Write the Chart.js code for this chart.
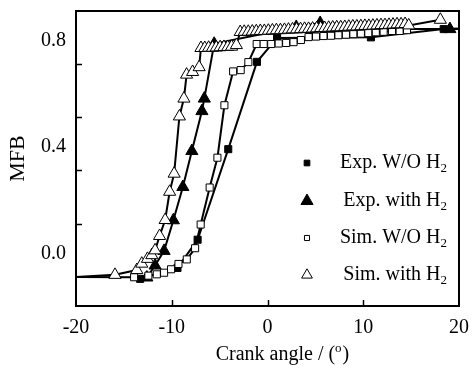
<!DOCTYPE html>
<html>
<head>
<meta charset="utf-8">
<script src="https://cdn.jsdelivr.net/npm/chart.js@4.4.0/dist/chart.umd.min.js"></script>
<style>
  html, body { margin: 0; padding: 0; background: #fff; }
</style>
</head>
<body>
<canvas id="mfb" width="472" height="374"></canvas>
<script>
// Mass fraction burned vs crank angle, experiment and simulation, with / without H2

// Exp. W/O H2
const expNoH2Angle = [-13.3, -9.4, -7.3, -4.1, -1.1, 1.0, 10.8, 18.4, 20];
const expNoH2Mfb   = [-0.095, -0.054, 0.052, 0.392, 0.72, 0.81, 0.812, 0.843, 0.845];

// Exp. with H2
const expH2Angle = [-12.6, -11.74, -10.8, -9.83, -8.84, -7.9, -6.85, -6.6, -5.57, 3.0, 5.5, 6.9, 19.05, 20];
const expH2Mfb   = [-0.09, -0.045, 0.01, 0.125, 0.25, 0.385, 0.535, 0.582, 0.788, 0.851, 0.866, 0.843, 0.843, 0.843];

// Sim. W/O H2
const simNoH2Angle = [-20, -13.93, -12.44, -11.56, -10.8, -10.07, -9.3, -8.43, -7.56, -6.98, -6.04, -5.23, -4.5,
  -3.59, -2.8, -2.0, -1.13, -0.4, 0.39, 1.17, 1.95, 2.72, 3.49, 4.29,
  5.07, 5.85, 6.63, 7.41, 8.19, 8.97, 9.75, 10.53, 11.31, 12.13, 13.0, 13.8, 14.57];
const simNoH2Mfb = [-0.088, -0.089, -0.083, -0.078, -0.072, -0.059, -0.039, -0.022, 0.02, 0.109, 0.248, 0.36, 0.557,
  0.684, 0.689, 0.719, 0.787, 0.787, 0.787, 0.789, 0.791, 0.794, 0.802, 0.813,
  0.815, 0.817, 0.818, 0.82, 0.822, 0.824, 0.826, 0.828, 0.831, 0.833, 0.836, 0.836, 0.839];

// Sim. with H2
const simH2Angle = [-20, -15.93, -13.65, -13.13, -12.54, -12.08, -11.74, -11.27, -10.69, -10.22, -9.75, -9.2, -8.73,
  -8.45, -7.82, -7.14,
  -6.95, -6.55, -6.15, -5.75, -5.35, -4.95, -4.55, -4.15, -3.75, -3.25,
  -2.85, -2.43, -2.01, -1.59, -1.17, -0.75, -0.33, 0.09, 0.51, 0.93, 1.35, 1.77, 2.19, 2.61,
  3.03, 3.45, 3.87, 4.29, 4.71, 5.13, 5.55, 5.97, 6.39, 6.81, 7.23, 7.65, 8.07, 8.49,
  8.91, 9.33, 9.75, 10.17, 10.59, 11.01, 11.43, 11.85, 12.27, 12.69, 13.11, 13.53, 13.95, 14.37,
  14.75, 18.05];
const simH2Mfb = [-0.088, -0.08, -0.062, -0.038, -0.02, -0.006, 0.012, 0.066, 0.126, 0.232, 0.3, 0.515, 0.582,
  0.672, 0.682, 0.7,
  0.772, 0.772, 0.773, 0.773, 0.774, 0.775, 0.776, 0.776, 0.777, 0.783,
  0.832, 0.833, 0.833, 0.834, 0.835, 0.836, 0.836, 0.837, 0.838, 0.839, 0.839, 0.84, 0.841, 0.842,
  0.842, 0.843, 0.844, 0.844, 0.845, 0.846, 0.847, 0.847, 0.848, 0.849, 0.85, 0.85, 0.851, 0.852,
  0.853, 0.853, 0.854, 0.855, 0.855, 0.856, 0.857, 0.858, 0.858, 0.859, 0.86, 0.861, 0.861, 0.862,
  0.857, 0.878];

// Axis ticks
const xTickValues = [-20, -10, 0, 10, 20];
const xTickMarks  = [-10, 0, 10];
const yTickValues = [0.0, 0.4, 0.8];
const yTickMarks  = [0.112, 0.312, 0.512, 0.712];

const seriesLabels = ['Exp. W/O H\u2082', 'Exp. with H\u2082', 'Sim. W/O H\u2082', 'Sim. with H\u2082'];

const SERIF = '"Liberation Serif", "Times New Roman", Times, serif';

function toPoints(xs, ys) {
  return xs.map((x, i) => ({ x: x, y: ys[i] }));
}
// markers sitting on the frame edges only carry the line
function markerRadius(r) {
  return ctx => (ctx.raw && Math.abs(ctx.raw.x) >= 20) ? 0 : r;
}

const legendStyle = [
  { style: 'rect', radius: 4, fill: '#000' },
  { style: 'triangle', radius: 7, fill: '#000' },
  { style: 'rect', radius: 3.6, fill: '#fff' },
  { style: 'triangle', radius: 6.2, fill: '#fff' }
];

// draws text, rendering "₂" as a lowered small 2
function drawSubText(ctx, text, xRight, y, size) {
  const parts = text.split('\u2082');
  ctx.save();
  ctx.textBaseline = 'middle';
  ctx.textAlign = 'left';
  const big = size + 'px ' + SERIF;
  const small = Math.round(size * 0.65) + 'px ' + SERIF;
  ctx.font = big;
  const w1 = ctx.measureText(parts[0]).width;
  ctx.font = small;
  const w2 = parts.length > 1 ? ctx.measureText('2').width : 0;
  let x = xRight - w1 - w2;
  ctx.font = big;
  ctx.fillStyle = '#000';
  ctx.fillText(parts[0], x, y);
  if (parts.length > 1) {
    ctx.font = small;
    ctx.fillText('2', x + w1, y + size * 0.28);
  }
  ctx.restore();
}

const framePlugin = {
  id: 'frameAndLegend',
  afterDraw(chart) {
    const ctx = chart.ctx;
    const a = chart.chartArea;
    const xs = chart.scales.x, ys = chart.scales.y;
    ctx.save();
    ctx.strokeStyle = '#000';
    // inward tick marks
    ctx.lineWidth = 1.5;
    ctx.beginPath();
    xTickMarks.forEach(v => {
      const px = Math.round(xs.getPixelForValue(v)) + 0.5;
      ctx.moveTo(px, a.bottom);
      ctx.lineTo(px, a.bottom - 6);
    });
    yTickMarks.forEach(v => {
      const py = Math.round(ys.getPixelForValue(v)) + 0.5;
      ctx.moveTo(a.left, py);
      ctx.lineTo(a.left + 6, py);
    });
    ctx.stroke();
    // frame
    ctx.lineWidth = 2;
    ctx.strokeRect(a.left, a.top, a.right - a.left, a.bottom - a.top);

    // legend
    const rowsY = [163, 201, 238, 275];
    chart.data.datasets.forEach((ds, i) => {
      const st = legendStyle[i];
      ctx.fillStyle = st.fill;
      ctx.strokeStyle = '#000';
      ctx.lineWidth = 1;
      Chart.helpers.drawPoint(ctx, { pointStyle: st.style, radius: st.radius, borderWidth: 1 }, 307, rowsY[i]);
      drawSubText(ctx, ds.label, 447, rowsY[i], 20);
    });

    // x-axis title with raised small "o"
    ctx.fillStyle = '#000';
    ctx.textBaseline = 'middle';
    ctx.textAlign = 'left';
    const big = '20px ' + SERIF, small = '13px ' + SERIF;
    const t1 = 'Crank angle / (', t2 = 'o', t3 = ')';
    ctx.font = big; const w1 = ctx.measureText(t1).width, w3 = ctx.measureText(t3).width;
    ctx.font = small; const w2 = ctx.measureText(t2).width;
    let x0 = 282 - (w1 + w2 + w3) / 2;
    const ty = 355;
    ctx.font = big; ctx.fillText(t1, x0, ty);
    ctx.font = small; ctx.fillText(t2, x0 + w1, ty - 6);
    ctx.font = big; ctx.fillText(t3, x0 + w1 + w2 + 1, ty);
    ctx.restore();
  }
};

new Chart(document.getElementById('mfb'), {
  type: 'line',
  data: {
    datasets: [
      {
        label: seriesLabels[0], data: toPoints(expNoH2Angle, expNoH2Mfb), order: 3,
        borderColor: '#000', borderWidth: 2, pointStyle: 'rect', pointRadius: markerRadius(5),
        pointBackgroundColor: '#000', pointBorderColor: '#000', pointBorderWidth: 1
      },
      {
        label: seriesLabels[1], data: toPoints(expH2Angle, expH2Mfb), order: 2,
        borderColor: '#000', borderWidth: 2, pointStyle: 'triangle', pointRadius: markerRadius(7),
        pointBackgroundColor: '#000', pointBorderColor: '#000', pointBorderWidth: 1
      },
      {
        label: seriesLabels[2], data: toPoints(simNoH2Angle, simNoH2Mfb), order: 1,
        borderColor: '#000', borderWidth: 2, pointStyle: 'rect', pointRadius: markerRadius(5),
        pointBackgroundColor: '#fff', pointBorderColor: '#000', pointBorderWidth: 1
      },
      {
        label: seriesLabels[3], data: toPoints(simH2Angle, simH2Mfb), order: 0,
        borderColor: '#000', borderWidth: 2, pointStyle: 'triangle', pointRadius: markerRadius(7),
        pointBackgroundColor: '#fff', pointBorderColor: '#000', pointBorderWidth: 1
      }
    ]
  },
  options: {
    responsive: false,
    animation: false,
    devicePixelRatio: 1,
    layout: { padding: { top: 11, right: 13, left: 0, bottom: 0 } },
    plugins: { legend: { display: false }, tooltip: { enabled: false } },
    elements: { line: { tension: 0 } },
    scales: {
      x: {
        type: 'linear', min: -20, max: 20,
        afterBuildTicks: s => { s.ticks = xTickValues.map(v => ({ value: v })); },
        afterFit: s => { s.height = 68; s.paddingLeft = 0; s.paddingRight = 0; },
        grid: { display: false, drawTicks: false },
        border: { display: false },
        ticks: { padding: 10, color: '#000', font: { family: SERIF, size: 20 }, callback: v => String(v) },
        title: { display: false }
      },
      y: {
        type: 'linear', min: -0.197, max: 0.911,
        afterBuildTicks: s => { s.ticks = yTickValues.map(v => ({ value: v })); },
        afterFit: s => { s.width = 76; s.paddingTop = 0; s.paddingBottom = 0; },
        grid: { display: false, drawTicks: false },
        border: { display: false },
        ticks: { padding: 10, color: '#000', font: { family: SERIF, size: 20 }, callback: v => Number(v).toFixed(1) },
        title: { display: true, text: 'MFB', color: '#000', font: { family: SERIF, size: 22 }, padding: { top: 5, bottom: 0 } }
      }
    }
  },
  plugins: [framePlugin]
});
</script>
</body>
</html>
